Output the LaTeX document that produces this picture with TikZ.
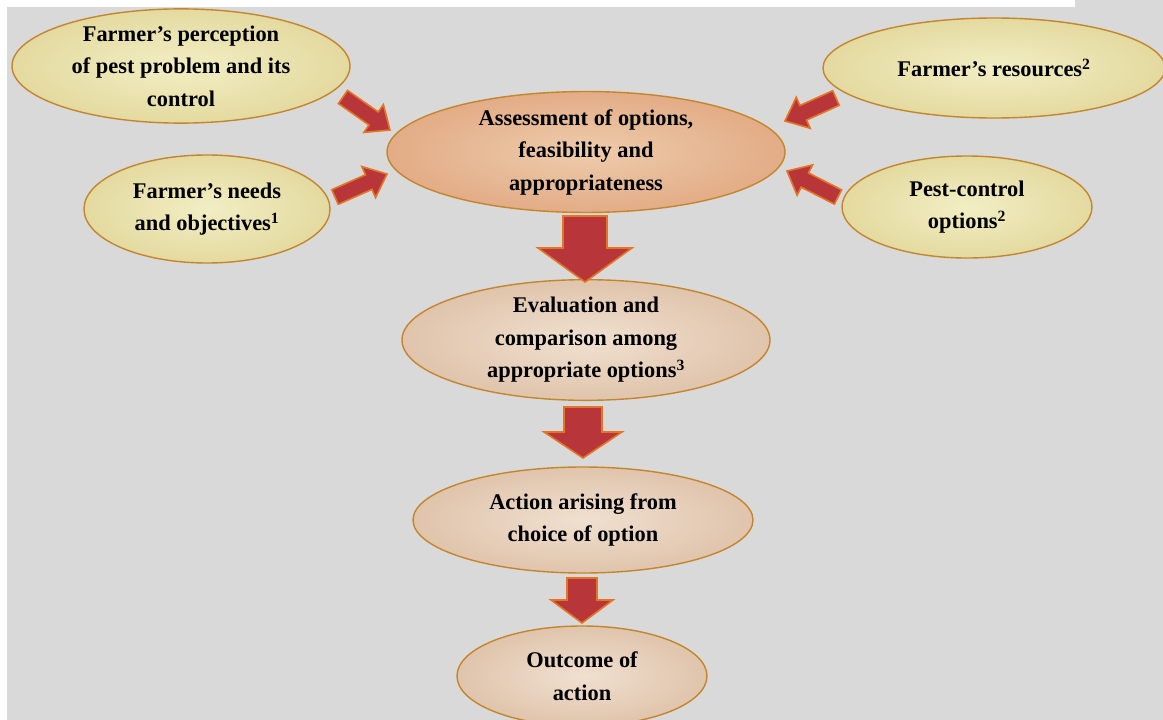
\documentclass[tikz,border=0pt]{standalone}
\usepackage{fontspec}
\setmainfont{Liberation Serif}
\usetikzlibrary{calc,shapes.geometric}
\definecolor{bg}{RGB}{217,217,217}
\definecolor{ebord}{RGB}{196,134,44}
\definecolor{yin}{RGB}{242,238,196}
\definecolor{yout}{RGB}{228,218,160}
\definecolor{pin}{RGB}{238,204,172}
\definecolor{pout}{RGB}{226,172,134}
\definecolor{lin}{RGB}{240,224,208}
\definecolor{lout}{RGB}{224,196,172}
\definecolor{ared}{RGB}{184,54,58}
\definecolor{aorange}{RGB}{226,118,36}
\tikzset{
  ell/.style={ellipse, draw=ebord, line width=1.4pt, inner sep=0pt, align=center,
    font=\fontsize{22.4}{32.5}\selectfont\bfseries},
  yell/.style={ell, inner color=yin, outer color=yout},
  pell/.style={ell, inner color=pin, outer color=pout},
  lell/.style={ell, inner color=lin, outer color=lout},
  blkarrow/.style={fill=ared, draw=aorange, line width=1.6pt, line join=miter},
}
% block arrow from #1 to #2, half shaft #3, half head #4, head length #5 (pt)
\newcommand\blockarr[5]{%
  \path[blkarrow] let \p1=($(#2)-(#1)$), \n1={atan2(\y1,\x1)}, \n2={veclen(\x1,\y1)} in
    [shift={(#1)}, rotate=\n1]
    (0pt,-#3pt) -- (\n2-#5pt,-#3pt) -- (\n2-#5pt,-#4pt) -- (\n2,0pt)
    -- (\n2-#5pt,#4pt) -- (\n2-#5pt,#3pt) -- (0pt,#3pt) -- cycle;}
\begin{document}
\begin{tikzpicture}[x=1pt,y=-1pt]
\useasboundingbox (0,0) rectangle (1163,720);
\fill[white] (0,0) rectangle (1163,720);
\fill[bg] (7,0) rectangle (1163,720);
\fill[white] (0,0) rectangle (1075,7);

\node[yell, minimum width=338pt, minimum height=104pt] (perc) at (181,66)
  {Farmer’s perception\\of pest problem and its\\control};
\node[yell, minimum width=246pt, minimum height=108pt] (needs) at (207,209)
  {Farmer’s needs\\and objectives\textsuperscript{1}};
\node[yell, minimum width=342pt, minimum height=100pt] (res) at (994,68)
  {Farmer’s resources\textsuperscript{2}};
\node[yell, minimum width=250pt, minimum height=102pt] (pest) at (967,207)
  {Pest-control\\options\textsuperscript{2}};
\node[pell, minimum width=398pt, minimum height=106pt] (assess) at (586,152)
  {Assessment of options,\\feasibility and\\appropriateness};
\node[lell, minimum width=368pt, minimum height=104pt] (eval) at (586,340)
  {Evaluation and\\comparison among\\appropriate options\textsuperscript{3}};
\node[lell, minimum width=340pt, minimum height=106pt] (act) at (583,520)
  {Action arising from\\choice of option};
\node[lell, minimum width=250pt, minimum height=100pt] (out) at (582,676)
  {Outcome of\\action};

% diagonal arrows
\coordinate (d1s) at (343,97);  \coordinate (d1e) at (390,130);
\coordinate (d2s) at (335,197); \coordinate (d2e) at (387,174);
\coordinate (d3s) at (836,98);  \coordinate (d3e) at (785,121);
\coordinate (d4s) at (838,197); \coordinate (d4e) at (787,171);
\blockarr{d1s}{d1e}{8}{17}{20}
\blockarr{d2s}{d2e}{8}{17}{20}
\blockarr{d3s}{d3e}{8}{17}{20}
\blockarr{d4s}{d4e}{8}{17}{20}

% vertical arrows
\coordinate (v1s) at (585,216); \coordinate (v1e) at (585,282);
\coordinate (v2s) at (583,407); \coordinate (v2e) at (583,458);
\coordinate (v3s) at (582,578); \coordinate (v3e) at (582,623);
\blockarr{v1s}{v1e}{22}{47}{34}
\blockarr{v2s}{v2e}{19}{39}{26}
\blockarr{v3s}{v3e}{15}{31}{23}
\end{tikzpicture}
\end{document}
